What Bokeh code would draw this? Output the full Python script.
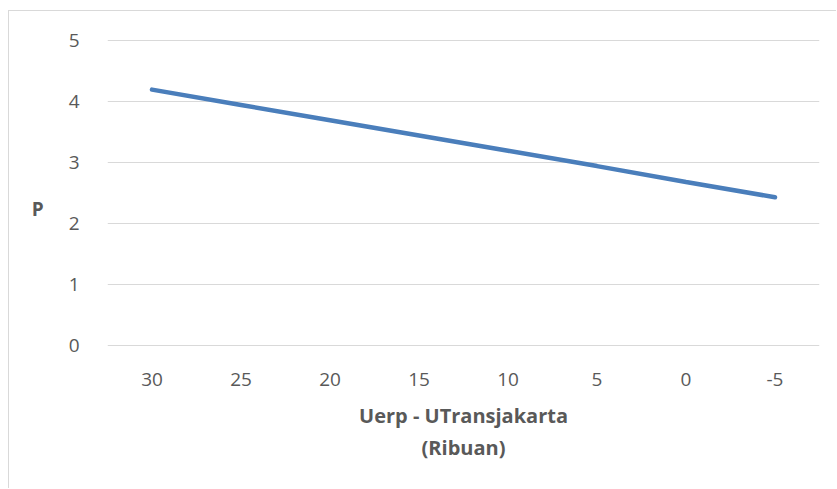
from bokeh.plotting import figure
from bokeh.models import FixedTicker
from bokeh.embed import file_html
from bokeh.resources import INLINE

# Difference in utility (thousands) vs. probability
categories = ["30", "25", "20", "15", "10", "5", "0", "-5"]
p_values = [4.19, 3.94, 3.69, 3.44, 3.19, 2.94, 2.68, 2.43]
y_ticks = [0, 1, 2, 3, 4, 5]

x_title = "Uerp - UTransjakarta\n(Ribuan)"
y_title = "\u00a0\nP"

TEXT = "#595959"
GRID = "#d9d9d9"
LINE = "#4a7ebb"
FONT = "Open Sans"
SIZE = "19px"

p = figure(
    width=828, height=478,
    x_range=categories, y_range=(-0.01, 5.01),
    output_backend="svg", toolbar_location=None,
    min_border_left=98, min_border_right=18,
    min_border_top=28, min_border_bottom=143,
    margin=(10, 0, 0, 8),
    styles={"border-left": f"1px solid {GRID}", "border-top": f"1px solid {GRID}"},
)
p.outline_line_color = None
p.background_fill_color = "white"
p.border_fill_color = "white"

p.line(x=categories, y=p_values, line_width=4.5, line_color=LINE, line_cap="round")

# y axis: values 0..5, no axis line or ticks
p.yaxis.ticker = FixedTicker(ticks=y_ticks)
p.yaxis.axis_line_color = None
p.yaxis.major_tick_line_color = None
p.yaxis.minor_tick_line_color = None
p.yaxis.major_label_standoff = 22
p.yaxis.major_label_text_font = FONT
p.yaxis.major_label_text_font_size = SIZE
p.yaxis.major_label_text_color = TEXT
p.yaxis.axis_label = y_title
p.yaxis.axis_label_orientation = "horizontal"
p.yaxis.axis_label_standoff = 22
p.yaxis.axis_label_text_font = FONT
p.yaxis.axis_label_text_font_size = SIZE
p.yaxis.axis_label_text_font_style = "bold"
p.yaxis.axis_label_text_color = TEXT
p.yaxis.axis_label_text_line_height = 1.25

# x axis
p.xaxis.axis_line_color = None
p.xaxis.major_tick_line_color = None
p.xaxis.minor_tick_line_color = None
p.xaxis.major_label_standoff = 20
p.xaxis.major_label_text_font = FONT
p.xaxis.major_label_text_font_size = SIZE
p.xaxis.major_label_text_color = TEXT
p.xaxis.axis_label = x_title
p.xaxis.axis_label_standoff = 13
p.xaxis.axis_label_text_font = FONT
p.xaxis.axis_label_text_font_size = "20px"
p.xaxis.axis_label_text_font_style = "bold"
p.xaxis.axis_label_text_color = TEXT
p.xaxis.axis_label_text_line_height = 1.2

p.xgrid.grid_line_color = None
p.ygrid.grid_line_color = GRID
p.ygrid.grid_line_width = 1

open("out.html", "w").write(file_html(p, INLINE))
